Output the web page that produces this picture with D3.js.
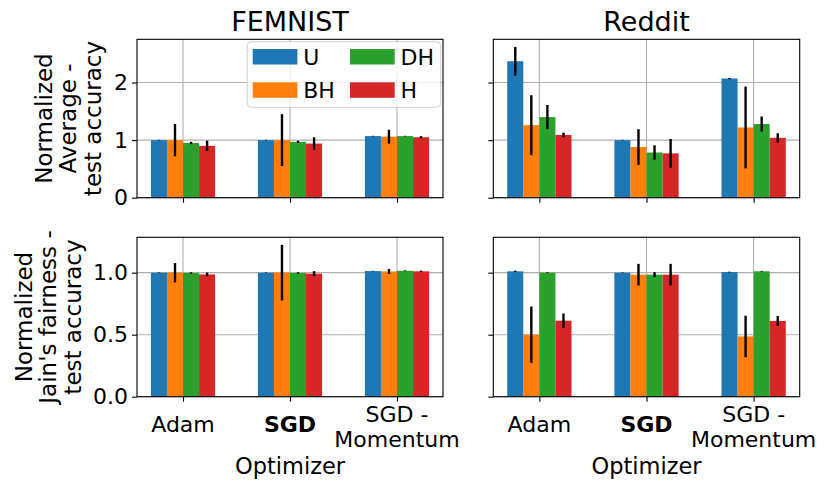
<!DOCTYPE html>
<html>
<head>
<meta charset="utf-8">
<script src="https://cdn.jsdelivr.net/npm/d3@7"></script>
<style>
  html, body { margin: 0; padding: 0; background: #fff; }
  svg { display: block; font-family: "DejaVu Sans", sans-serif; }
</style>
</head>
<body>
<svg id="chart" width="830" height="490"></svg>
<script>
// ---------------- DATA ----------------
const optimizers = ["Adam", "SGD", "SGD -\nMomentum"];
const seriesNames = ["U", "BH", "DH", "H"];
const seriesColors = ["#1f77b4", "#ff7f0e", "#2ca02c", "#d62728"];
const datasets = ["FEMNIST", "Reddit"];

// Normalized Average - test accuracy (rows: U, BH, DH, H; cols: Adam, SGD, SGD-Momentum)
const femnistAvgMean = [[1.00, 1.00, 1.07], [1.00, 1.00, 1.06], [0.95, 0.97, 1.07], [0.90, 0.94, 1.05]];
const femnistAvgErr  = [[0.005, 0.005, 0.005], [0.28, 0.45, 0.12], [0.02, 0.02, 0.005], [0.09, 0.11, 0.02]];
const redditAvgMean  = [[2.37, 1.00, 2.07], [1.26, 0.88, 1.22], [1.40, 0.785, 1.28], [1.09, 0.77, 1.04]];
const redditAvgErr   = [[0.25, 0.005, 0.01], [0.52, 0.31, 0.71], [0.21, 0.125, 0.13], [0.04, 0.25, 0.08]];

// Normalized Jain's fairness - test accuracy
const femnistJainMean = [[1.00, 1.00, 1.013], [1.00, 1.00, 1.01], [0.998, 0.998, 1.015], [0.986, 0.992, 1.011]];
const femnistJainErr  = [[0.002, 0.002, 0.002], [0.078, 0.224, 0.02], [0.005, 0.005, 0.003], [0.015, 0.02, 0.005]];
const redditJainMean  = [[1.011, 1.00, 1.005], [0.50, 0.984, 0.486], [1.00, 0.984, 1.011], [0.613, 0.984, 0.611]];
const redditJainErr   = [[0.005, 0.002, 0.003], [0.227, 0.087, 0.167], [0.003, 0.02, 0.003], [0.058, 0.087, 0.039]];

const avgTicks = [0, 1, 2];
const jainTicks = [0, 0.5, 1.0];
const rowLabels = [["Normalized", "Average -", "test accuracy"], ["Normalized", "Jain's fairness -", "test accuracy"]];
const xLabel = "Optimizer";

// ---------------- LAYOUT ----------------
const svg = d3.select("#chart");
const colX = [[137, 443], [493.3, 799.7]];
const rowY = [[39.3, 197.7], [237.3, 396.7]];
const labelBaselines = [[51.5, 76, 100.5], [31.5, 56, 80.5]];
const barWidth = 0.15;

const rows = [
  { means: [femnistAvgMean, redditAvgMean], errs: [femnistAvgErr, redditAvgErr], ticks: avgTicks, fmt: d3.format("d") },
  { means: [femnistJainMean, redditJainMean], errs: [femnistJainErr, redditJainErr], ticks: jainTicks, fmt: d3.format(".1f") }
];

const tickFont = 22;

rows.forEach((row, ri) => {
  // shared y domain per row, matplotlib-like 5% top margin
  let maxTop = 0;
  row.means.forEach((m, di) => m.forEach((s, si) => s.forEach((v, oi) => {
    maxTop = Math.max(maxTop, v + row.errs[di][si][oi]);
  })));
  const y = d3.scaleLinear().domain([0, maxTop * 1.05]).range([rowY[ri][1], rowY[ri][0]]);

  datasets.forEach((ds, di) => {
    const [x0, x1] = colX[di];
    const x = d3.scaleLinear().domain([-0.43, 2.43]).range([x0, x1]);
    const g = svg.append("g");

    // grid
    g.selectAll(".hgrid").data(row.ticks).enter().append("line")
      .attr("x1", x0).attr("x2", x1)
      .attr("y1", d => y(d)).attr("y2", d => y(d))
      .attr("stroke", "#b0b0b0").attr("stroke-width", 1.1);
    g.selectAll(".vgrid").data(optimizers).enter().append("line")
      .attr("x1", (d, i) => x(i)).attr("x2", (d, i) => x(i))
      .attr("y1", rowY[ri][0]).attr("y2", rowY[ri][1])
      .attr("stroke", "#b0b0b0").attr("stroke-width", 1.1);

    // bars
    seriesNames.forEach((sn, si) => {
      const off = (si - 1.5) * barWidth;
      const vals = row.means[di][si];
      const errs = row.errs[di][si];
      g.selectAll(".bar" + si).data(vals).enter().append("rect")
        .attr("x", (d, i) => x(i + off - barWidth / 2))
        .attr("width", x(barWidth) - x(0))
        .attr("y", d => y(d))
        .attr("height", d => y(0) - y(d))
        .attr("fill", seriesColors[si]);
      g.selectAll(".err" + si).data(vals).enter().append("line")
        .attr("x1", (d, i) => x(i + off)).attr("x2", (d, i) => x(i + off))
        .attr("y1", (d, i) => y(d - errs[i]))
        .attr("y2", (d, i) => y(d + errs[i]))
        .attr("stroke", "#000").attr("stroke-width", 2.4);
    });

    // axes
    const yAxis = d3.axisLeft(y).tickValues(row.ticks).tickSize(5).tickPadding(4)
      .tickFormat(di === 0 ? row.fmt : () => "");
    const ya = svg.append("g").attr("transform", `translate(${x0},0)`).call(yAxis);
    ya.select(".domain").remove();
    ya.selectAll("line").attr("stroke", "#000").attr("stroke-width", 1.1);
    ya.selectAll("text").attr("font-size", tickFont).attr("fill", "#000")
      .attr("font-family", "DejaVu Sans");

    const xAxis = d3.axisBottom(x).tickValues([0, 1, 2]).tickSize(5).tickFormat(() => "");
    const xa = svg.append("g").attr("transform", `translate(0,${rowY[ri][1]})`).call(xAxis);
    xa.select(".domain").remove();
    xa.selectAll("line").attr("stroke", "#000").attr("stroke-width", 1.1);

    // frame
    svg.append("rect").attr("x", x0).attr("y", rowY[ri][0])
      .attr("width", x1 - x0).attr("height", rowY[ri][1] - rowY[ri][0])
      .attr("fill", "none").attr("stroke", "#000").attr("stroke-width", 1.1);

    // titles
    if (ri === 0) {
      svg.append("text").attr("x", (x0 + x1) / 2).attr("y", 30.5)
        .attr("text-anchor", "middle").attr("font-size", 27).text(ds);
    }

    // x tick labels & x label on bottom row
    if (ri === 1) {
      optimizers.forEach((o, oi) => {
        const lines = o.split("\n");
        const t = svg.append("text").attr("text-anchor", "middle")
          .attr("font-size", tickFont)
          .attr("font-weight", o === "SGD" ? "bold" : "normal");
        if (lines.length === 1) {
          t.append("tspan").attr("x", x(oi)).attr("y", 432).text(lines[0]);
        } else {
          lines.forEach((l, li) => t.append("tspan").attr("x", x(oi)).attr("y", 421.7 + li * 25).text(l));
        }
      });
      svg.append("text").attr("x", (x0 + x1) / 2).attr("y", 474)
        .attr("text-anchor", "middle").attr("font-size", 22.5).text(xLabel);
    }

    // legend in top-left panel
    if (ri === 0 && di === 0) {
      const lg = svg.append("g");
      lg.append("rect").attr("x", 247.3).attr("y", 41.7).attr("width", 193.4).attr("height", 65.6)
        .attr("rx", 4).attr("fill", "#fff").attr("fill-opacity", 0.8)
        .attr("stroke", "#d0d0d0").attr("stroke-width", 1);
      const pos = [[252.7, 49], [252.7, 82.3], [350, 49], [350, 82.3]];
      seriesNames.forEach((sn, si) => {
        lg.append("rect").attr("x", pos[si][0]).attr("y", pos[si][1])
          .attr("width", 44.7).attr("height", 15.5).attr("fill", seriesColors[si]);
        lg.append("text").attr("x", pos[si][0] + 50.5).attr("y", pos[si][1] + 15.5)
          .attr("font-size", tickFont).text(sn);
      });
    }
  });

  // row y label
  const cy = (rowY[ri][0] + rowY[ri][1]) / 2;
  const t = svg.append("text").attr("text-anchor", "middle").attr("font-size", 23)
    .attr("transform", `rotate(-90)`);
  rowLabels[ri].forEach((l, li) => {
    t.append("tspan").attr("x", -cy).attr("y", labelBaselines[ri][li]).text(l);
  });
});
</script>
</body>
</html>
